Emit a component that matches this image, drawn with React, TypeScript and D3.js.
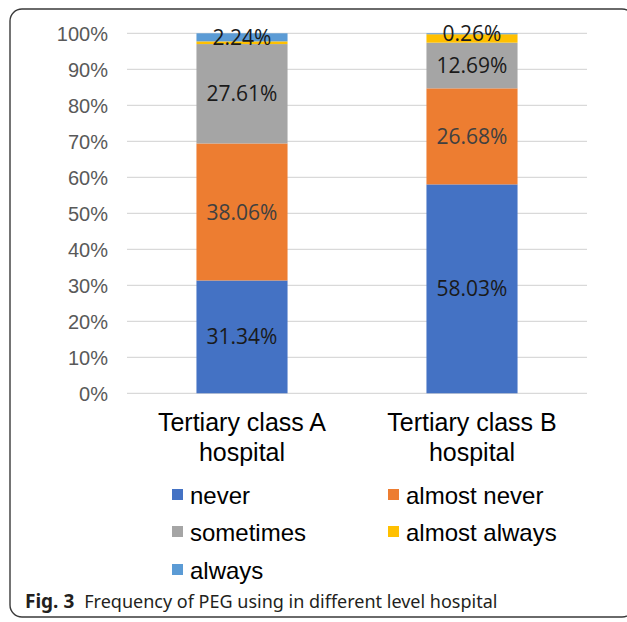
import React from "react";
import * as d3 from "d3";

const width = 627;
const height = 622;

// chart data
const categories = ["Tertiary class A hospital", "Tertiary class B hospital"];
const categoryLines = [
  ["Tertiary class A", "hospital"],
  ["Tertiary class B", "hospital"],
];
const seriesNames = ["never", "almost never", "sometimes", "almost always", "always"];
const never = [31.34, 58.03];
const almostNever = [38.06, 26.68];
const sometimes = [27.61, 12.69];
const almostAlways = [0.75, 2.34];
const always = [2.24, 0.26];
const showLabel = [true, true, true, false, true];
const yTicks = [0, 10, 20, 30, 40, 50, 60, 70, 80, 90, 100];

const colors = ["#4472c4", "#ed7d31", "#a5a5a5", "#ffc000", "#5b9bd5"];

const seriesValues = [never, almostNever, sometimes, almostAlways, always];
const rows = categories.map((c, i) => {
  const r: Record<string, any> = { category: c };
  seriesNames.forEach((s, j) => (r[s] = seriesValues[j][i]));
  return r;
});

const plotLeft = 127;
const plotRight = 587;
const plotTop = 33.3;
const plotBottom = 393.3;

const x = d3
  .scaleBand()
  .domain(categories)
  .range([plotLeft, plotRight])
  .paddingInner(0.604)
  .paddingOuter(0.302);
const y = d3.scaleLinear().domain([0, 100]).range([plotBottom, plotTop]);

const stacked = d3.stack().keys(seriesNames)(rows as any);

const axisFont = "'Liberation Sans', Arial, sans-serif";

const legendItems = [
  { name: "never", col: 0, row: 0 },
  { name: "almost never", col: 1, row: 0 },
  { name: "sometimes", col: 0, row: 1 },
  { name: "almost always", col: 1, row: 1 },
  { name: "always", col: 0, row: 2 },
];
const legendX = [172, 388];
const legendY = [495, 532, 570];

const App = () => {
  return (
    <div style={{ position: "absolute", left: 0, top: 0 }}>
      <svg width={width} height={height} style={{ display: "block" }}>
        <rect x={0} y={0} width={width} height={height} fill="#fff" />
        <rect
          x={10}
          y={9}
          width={624}
          height={608}
          rx={12}
          fill="none"
          stroke="#3a3a3a"
          strokeWidth={1.4}
        />
        {/* gridlines */}
        {yTicks.map((t) => (
          <line
            key={t}
            x1={plotLeft}
            x2={plotRight}
            y1={y(t)}
            y2={y(t)}
            stroke="#d9d9d9"
            strokeWidth={1.3}
          />
        ))}
        {yTicks.map((t) => (
          <text
            key={"l" + t}
            x={108}
            y={y(t)}
            dy="0.36em"
            textAnchor="end"
            fontFamily={axisFont}
            fontSize={20}
            fill="#595959"
          >
            {t}%
          </text>
        ))}
        {/* bars */}
        {stacked.map((s, si) => (
          <g key={s.key} fill={colors[si]}>
            {s.map((d, i) => (
              <rect
                key={i}
                x={x(categories[i])}
                y={y(d[1])}
                width={x.bandwidth()}
                height={y(d[0]) - y(d[1])}
              />
            ))}
          </g>
        ))}
        {/* data labels */}
        {stacked.map((s, si) =>
          showLabel[si]
            ? s.map((d, i) => (
                <text
                  key={s.key + i}
                  x={(x(categories[i]) as number) + x.bandwidth() / 2}
                  y={y((d[0] + d[1]) / 2)}
                  dy="0.36em"
                  textAnchor="middle"
                  fontFamily="'Open Sans', sans-serif"
                  fontSize={21}
                  fill={si === 1 ? "#404040" : "#1a1a1a"}
                >
                  {seriesValues[si][i].toFixed(2)}%
                </text>
              ))
            : null
        )}
        {/* category labels */}
        {categoryLines.map((lines, i) => (
          <text
            key={"c" + i}
            x={(x(categories[i]) as number) + x.bandwidth() / 2}
            textAnchor="middle"
            fontFamily={axisFont}
            fontSize={25}
            fill="#000"
          >
            {lines.map((l, k) => (
              <tspan key={k} x={(x(categories[i]) as number) + x.bandwidth() / 2} y={422 + k * 30} dy="0.36em">
                {l}
              </tspan>
            ))}
          </text>
        ))}
        {/* legend */}
        {legendItems.map((it) => {
          const si = seriesNames.indexOf(it.name);
          return (
            <g key={it.name} transform={`translate(${legendX[it.col]},${legendY[it.row]})`}>
              <rect x={0} y={-6} width={11} height={11} fill={colors[si]} />
              <text x={18} y={0} dy="0.36em" fontFamily={axisFont} fontSize={24} fill="#000">
                {it.name}
              </text>
            </g>
          );
        })}
        {/* caption */}
        <text x={25} y={602} dy="0.36em" fontFamily="'Noto Sans', sans-serif" fontSize={18} fill="#231f20">
          <tspan fontWeight="bold" fontSize={19}>Fig. 3</tspan>
          <tspan dx={10}>Frequency of PEG using in different level hospital</tspan>
        </text>
      </svg>
    </div>
  );
};

export default App;
